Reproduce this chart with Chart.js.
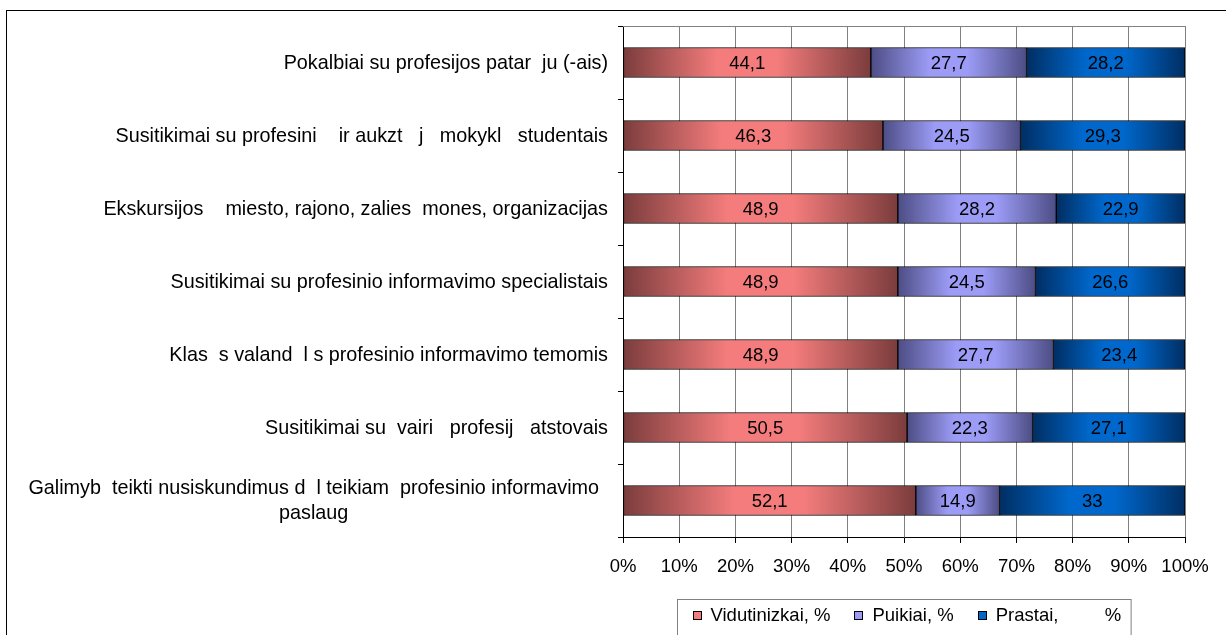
<!DOCTYPE html>
<html>
<head>
<meta charset="utf-8">
<script src="https://cdn.jsdelivr.net/npm/chart.js@4.4.1/dist/chart.umd.min.js"></script>
<style>
  html, body { margin: 0; padding: 0; background: #fff; overflow: hidden; }
  #frame { position: absolute; left: 6px; top: 10px; width: 1300px; height: 700px; border: 1px solid #000; }
  #chart { position: absolute; left: 0; top: 0; }
</style>
</head>
<body>
<div id="frame"></div>
<canvas id="chart" width="1226" height="635"></canvas>
<script>
// categories, top to bottom (missing Lithuanian letters left as gaps, like the source)
const categories = [
  'Pokalbiai su profesijos patar  ju (-ais)',
  'Susitikimai su profesini    ir aukzt   j   mokykl   studentais',
  'Ekskursijos    miesto, rajono, zalies  mones, organizacijas',
  'Susitikimai su profesinio informavimo specialistais',
  'Klas  s valand  l s profesinio informavimo temomis',
  'Susitikimai su  vairi   profesij   atstovais',
  ['Galimyb  teikti nusiskundimus d  l teikiam  profesinio informavimo', 'paslaug']
];
const vidutiniskai = [44.1, 46.3, 48.9, 48.9, 48.9, 50.5, 52.1];
const puikiai = [27.7, 24.5, 28.2, 24.5, 27.7, 22.3, 14.9];
const prastai = [28.2, 29.3, 22.9, 26.6, 23.4, 27.1, 33];
const seriesNames = ['Vidutinizkai, %', 'Puikiai, %', 'Prastai,         %'];

const FONT = '"Liberation Sans", Arial, sans-serif';
const raw = [vidutiniskai, puikiai, prastai];
const totals = categories.map((_, i) => raw.reduce((s, arr) => s + arr[i], 0));
const toPct = (arr) => arr.map((v, i) => v / totals[i] * 100);

// dark edge / light centre for each series
const shades = [
  ['#7b3c3c', '#f47c7c'],
  ['#4d4d85', '#9c9cf7'],
  ['#002e63', '#0068cc']
];

function shade(dark, light) {
  return (ctx) => {
    const chart = ctx.chart;
    if (!chart.chartArea || ctx.type !== 'data') return light;
    const xs = chart.scales.x;
    let start = 0;
    for (let d = 0; d < ctx.datasetIndex; d++) start += chart.data.datasets[d].data[ctx.dataIndex];
    const end = start + chart.data.datasets[ctx.datasetIndex].data[ctx.dataIndex];
    const x0 = xs.getPixelForValue(start), x1 = xs.getPixelForValue(end);
    const g = chart.ctx.createLinearGradient(x0, 0, x1, 0);
    g.addColorStop(0, dark);
    g.addColorStop(0.38, light);
    g.addColorStop(0.62, light);
    g.addColorStop(1, dark);
    return g;
  };
}

const datasets = raw.map((arr, k) => ({
  label: seriesNames[k],
  data: toPct(arr),
  rawValues: arr,
  backgroundColor: shade(shades[k][0], shades[k][1]),
  borderColor: '#000',
  borderWidth: 1,
  borderSkipped: false,
  barThickness: 30
}));

const extras = {
  id: 'extras',
  beforeDatasetsDraw(chart) {
    // gray top edge of the plot area
    const { ctx, chartArea: a } = chart;
    ctx.save();
    ctx.strokeStyle = '#808080';
    ctx.lineWidth = 1;
    ctx.beginPath();
    ctx.moveTo(a.left, Math.round(a.top) + 0.5);
    ctx.lineTo(a.right, Math.round(a.top) + 0.5);
    ctx.stroke();
    ctx.restore();
  },
  afterDatasetsDraw(chart) {
    const ctx = chart.ctx;
    ctx.save();
    ctx.font = '18.5px ' + FONT;
    ctx.fillStyle = '#000';
    ctx.textAlign = 'center';
    ctx.textBaseline = 'middle';
    chart.data.datasets.forEach((ds, d) => {
      chart.getDatasetMeta(d).data.forEach((el, i) => {
        const txt = String(ds.rawValues[i]).replace('.', ',');
        ctx.fillText(txt, (el.x + el.base) / 2, el.y + 1);
      });
    });
    ctx.restore();
  },
  afterDraw(chart) {
    const { ctx, chartArea: a } = chart;
    const ys = chart.scales.y;
    ctx.save();
    // category labels
    ctx.font = '19.8px ' + FONT;
    ctx.fillStyle = '#000';
    ctx.textBaseline = 'middle';
    const right = a.left - 15;
    chart.data.labels.forEach((lab, i) => {
      const y = ys.getPixelForValue(i);
      if (Array.isArray(lab)) {
        const lh = 25;
        const w = Math.max(...lab.map(t => ctx.measureText(t).width));
        const cx = right - 9 - w / 2;
        ctx.textAlign = 'center';
        lab.forEach((t, j) => ctx.fillText(t, cx, y + (j - (lab.length - 1) / 2) * lh + 1));
      } else {
        ctx.textAlign = 'right';
        ctx.fillText(lab, right, y + 1);
      }
    });
    // legend box centred under the plot area
    ctx.font = '18.5px ' + FONT;
    const items = chart.data.datasets.map((ds, k) => ({ text: ds.label, w: ctx.measureText(ds.label).width, color: shades[k][1] }));
    const padL = 15, padR = 10, mark = 9, markGap = 9, itemGap = 24;
    const boxW = padL + padR + items.reduce((s, it) => s + mark + markGap + it.w, 0) + itemGap * (items.length - 1);
    const boxX = Math.round((a.left + a.right) / 2 - boxW / 2) + 0.5;
    const boxY = 599.5;
    ctx.strokeStyle = '#808080';
    ctx.lineWidth = 1;
    ctx.strokeRect(boxX, boxY, boxW, 40);
    let x = boxX + padL;
    const ty = 616;
    ctx.textAlign = 'left';
    items.forEach(it => {
      ctx.fillStyle = it.color;
      ctx.fillRect(Math.round(x), ty - 5, mark, mark);
      ctx.strokeStyle = '#000';
      ctx.strokeRect(Math.round(x) + 0.5, ty - 5 + 0.5, mark - 1, mark - 1);
      x += mark + markGap;
      ctx.fillStyle = '#000';
      ctx.fillText(it.text, x, ty);
      x += it.w + itemGap;
    });
    ctx.restore();
  }
};

new Chart(document.getElementById('chart'), {
  type: 'bar',
  data: { labels: categories, datasets: datasets },
  options: {
    indexAxis: 'y',
    responsive: false,
    animation: false,
    layout: { padding: { left: 0, right: 41, top: 26, bottom: 0 } },
    plugins: { legend: { display: false }, tooltip: { enabled: false } },
    scales: {
      x: {
        stacked: true,
        min: 0,
        max: 100,
        ticks: {
          stepSize: 10,
          autoSkip: false,
          maxRotation: 0,
          padding: 13,
          color: '#000',
          font: { family: FONT, size: 18.5 },
          callback: (v) => v + '%'
        },
        grid: { color: '#808080', tickColor: '#000', tickLength: 6 },
        border: { color: '#000' },
        afterFit: (scale) => { scale.height = 98; }
      },
      y: {
        stacked: true,
        ticks: { display: false },
        grid: { drawOnChartArea: false, offset: true, color: '#000', tickLength: 5 },
        border: { color: '#000' },
        afterFit: (scale) => { scale.width = 623; }
      }
    }
  },
  plugins: [extras]
});
</script>
</body>
</html>
